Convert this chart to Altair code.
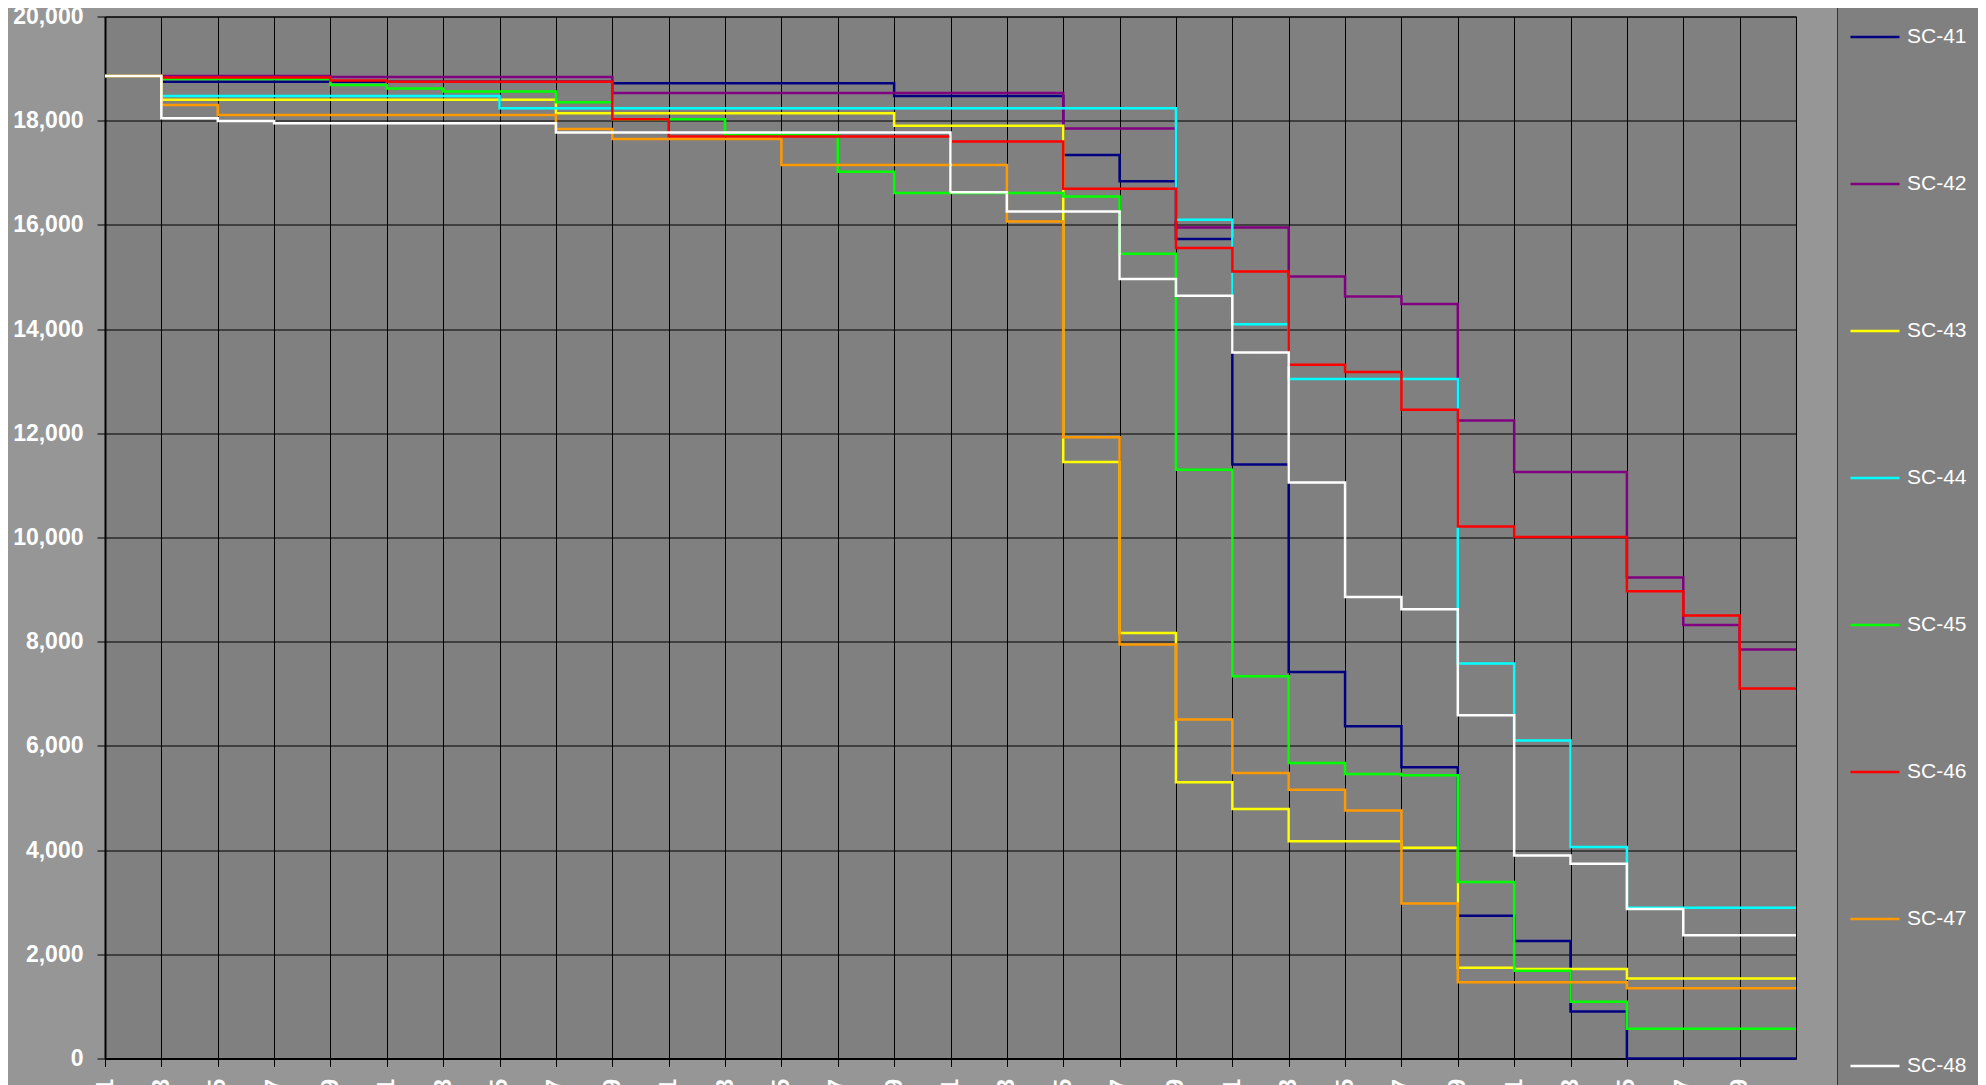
import altair as alt
import pandas as pd

# category labels (every plotted step position)
days = [1, 3, 5, 7, 9, 11, 13, 15, 17, 19, 21, 23, 25, 27, 29, 31,
        33, 35, 37, 39, 41, 43, 45, 47, 49, 51, 53, 55, 57, 59, 61]
tick_days = [1, 3, 5, 7, 9, 11, 13, 15, 17, 19, 21, 23, 25, 27, 29, 31,
             33, 35, 37, 39, 41, 43, 45, 47, 49, 51, 53, 55, 57, 59]
y_ticks = [0, 2000, 4000, 6000, 8000, 10000, 12000, 14000, 16000, 18000, 20000]

sc41 = [18860, 18750, 18750, 18750, 18750, 18750, 18750, 18750, 18750,
        18720, 18720, 18720, 18720, 18720, 18475, 18475, 18475, 17340,
        16840, 15730, 11400, 7420, 6375, 5590, 2740, 2255, 900, 0, 0, 0, 0]
sc42 = [18860, 18860, 18860, 18860, 18840, 18840, 18840, 18840, 18840,
        18530, 18530, 18530, 18530, 18530, 18530, 18530, 18530, 17850,
        17850, 15950, 15950, 15010, 14625, 14480, 12245, 11255, 11255,
        9230, 8320, 7850, 7850]
sc43 = [18860, 18400, 18400, 18400, 18400, 18400, 18400, 18400, 18145,
        18145, 18145, 18145, 18145, 18145, 17905, 17905, 17905, 11450,
        8165, 5300, 4790, 4170, 4170, 4045, 1740, 1720, 1720, 1535, 1535,
        1535, 1535]
sc44 = [18860, 18475, 18475, 18475, 18475, 18475, 18475, 18240, 18240,
        18240, 18240, 18240, 18240, 18240, 18240, 18240, 18240, 18240,
        18240, 16100, 14095, 13040, 13040, 13040, 7580, 6105, 4060, 2895,
        2895, 2895, 2895]
sc45 = [18860, 18800, 18800, 18800, 18685, 18620, 18560, 18560, 18355,
        18030, 18030, 17725, 17725, 17020, 16610, 16610, 16610, 16545,
        15445, 11300, 7335, 5670, 5460, 5435, 3390, 1685, 1090, 570, 570,
        570, 570]
sc46 = [18860, 18830, 18830, 18830, 18770, 18750, 18750, 18750, 18750,
        18030, 17695, 17695, 17695, 17695, 17695, 17600, 17600, 16695,
        16695, 15555, 15105, 13315, 13175, 12450, 10210, 10010, 10010,
        8970, 8505, 7100, 7100]
sc47 = [18860, 18300, 18110, 18110, 18110, 18110, 18110, 18110, 17840,
        17650, 17650, 17650, 17150, 17150, 17150, 17150, 16065, 11925,
        7945, 6505, 5480, 5160, 4760, 2975, 1465, 1465, 1465, 1350, 1350,
        1350, 1350]
sc48 = [18860, 18045, 17995, 17950, 17950, 17950, 17950, 17950, 17775,
        17775, 17775, 17775, 17775, 17775, 17775, 16625, 16255, 16255,
        14960, 14640, 13550, 11055, 8860, 8625, 6590, 3895, 3740, 2870,
        2365, 2365, 2365]

names = ["SC-41", "SC-42", "SC-43", "SC-44", "SC-45", "SC-46", "SC-47", "SC-48"]
colors = ["#000080", "#800080", "#FFFF00", "#00FFFF", "#00FF00", "#FF0000",
          "#FF9900", "#FFFFFF"]
series = [sc41, sc42, sc43, sc44, sc45, sc46, sc47, sc48]

rows = []
for name, vals in zip(names, series):
    for d, v in zip(days, vals):
        rows.append({"day": d, "series": name, "value": v})
df = pd.DataFrame(rows)

FONT = "Liberation Sans"

chart = alt.Chart(df).mark_line(interpolate="step-after", strokeWidth=2.5).encode(
    x=alt.X("day:Q",
            scale=alt.Scale(domain=[1, 61], nice=False, zero=False),
            axis=alt.Axis(values=tick_days, title=None, labelAngle=-90,
                          labelAlign="right", labelBaseline="middle",
                          labelPadding=12, labelFlush=False, labelOverlap=False)),
    y=alt.Y("value:Q",
            scale=alt.Scale(domain=[0, 20000], nice=False),
            axis=alt.Axis(values=y_ticks, title=None,
                          labelExpr="format(datum.value, ',')",
                          labelPadding=14, labelFlush=False, labelOverlap=False)),
    color=alt.Color("series:N",
                    scale=alt.Scale(domain=names, range=colors),
                    sort=names,
                    legend=alt.Legend(title=None, orient="none",
                                      legendX=1732, legendY=-17.5,
                                      fillColor="#808080", strokeColor="#333333",
                                      padding=12, symbolType="stroke",
                                      symbolSize=2401, symbolStrokeWidth=2.5,
                                      labelFont=FONT, labelFontSize=21,
                                      labelColor="white", labelOffset=6,
                                      rowPadding=111)),
    order=alt.Order("series:N"),
).properties(
    width=1691,
    height=1042,
    background="#969696",
    padding={"left": 97, "top": 8.5, "right": 182, "bottom": 30},
    autosize=alt.AutoSizeParams(type="none"),
).configure_view(
    fill="#808080", stroke="black", strokeWidth=1
).configure_axis(
    domainColor="black", domainWidth=2, tickColor="black", tickSize=8,
    tickWidth=1, grid=True, gridColor="black", gridWidth=1, gridOpacity=1,
    labelColor="white", labelFont=FONT, labelFontWeight="bold",
    labelFontSize=23,
)

chart.save("out.html", embed_options={"renderer": "svg", "actions": False})
